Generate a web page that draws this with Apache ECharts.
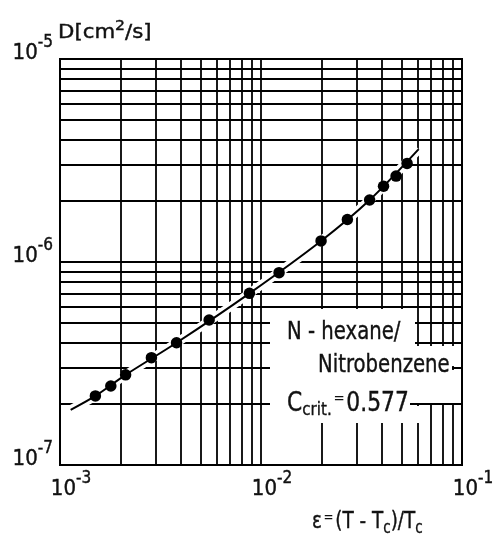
<!DOCTYPE html>
<html>
<head>
<meta charset="utf-8">
<script src="https://cdn.jsdelivr.net/npm/echarts@6/dist/echarts.min.js"></script>
<style>
html, body { margin: 0; padding: 0; background: #fff; }
#main { width: 493px; height: 536px; }
</style>
</head>
<body>
<div id="main"></div>
<script>
// measured points: eps = (T - Tc)/Tc, D in cm2/s
var epsData = [1.50e-3, 1.79e-3, 2.12e-3, 2.85e-3, 3.80e-3, 5.52e-3, 8.76e-3, 1.23e-2, 1.99e-2, 2.69e-2, 3.47e-2, 4.07e-2, 4.70e-2, 5.33e-2];
var dData   = [2.19e-7, 2.45e-7, 2.78e-7, 3.38e-7, 4.00e-7, 5.18e-7, 7.01e-7, 8.86e-7, 1.27e-6, 1.62e-6, 2.02e-6, 2.36e-6, 2.65e-6, 3.06e-6];

// the drawn curve
var curveEps = [1.13e-3, 1.50e-3, 2.12e-3, 3.80e-3, 8.76e-3, 1.99e-2, 3.47e-2, 6.09e-2];
var curveD   = [1.87e-7, 2.19e-7, 2.78e-7, 4.00e-7, 7.01e-7, 1.27e-6, 2.02e-6, 3.60e-6];

// axis ranges and log paper lines
var epsMin = 1e-3, epsMax = 1e-1;
var dMin = 1e-7, dMax = 1e-5;
var gridEps = [2e-3, 3e-3, 4e-3, 5e-3, 6e-3, 7e-3, 8e-3, 9e-3, 1e-2, 2e-2, 3e-2, 4e-2, 5e-2, 6e-2, 7e-2, 8e-2, 9e-2];
var gridD   = [2e-7, 3e-7, 4e-7, 5e-7, 6e-7, 7e-7, 8e-7, 9e-7, 1e-6, 2e-6, 3e-6, 4e-6, 5e-6, 6e-6, 7e-6, 8e-6, 9e-6];

var narrow = "'DejaVu Sans Condensed', 'DejaVu Sans', sans-serif";
var plain = "'DejaVu Sans', sans-serif";
var ink = '#111';

function pairs(xs, ys) {
  var out = [];
  for (var i = 0; i < xs.length; i++) out.push([xs[i], ys[i]]);
  return out;
}

function expLabel(v) {
  return Math.round(Math.log10(v));
}

var gridLines = [];
gridEps.forEach(function (v) { gridLines.push({ coords: [[v, dMin], [v, dMax]] }); });
gridD.forEach(function (v) { gridLines.push({ coords: [[epsMin, v], [epsMax, v]] }); });

var labelRich = {
  sp: { width: 22, lineHeight: 10, fontSize: 10 },
  h: { width: 0, lineHeight: 30, fontSize: 10 },
  b: { fontSize: 22, lineHeight: 22, verticalAlign: 'bottom', fontFamily: narrow, color: ink, textBorderColor: ink, textBorderWidth: 0.4 },
  s: { fontSize: 17, lineHeight: 18, verticalAlign: 'top', fontFamily: narrow, color: ink, textBorderColor: ink, textBorderWidth: 0.4 }
};

// rich token styles for the free texts
function tok(size, lh, va, extra) {
  var t = { fontSize: size, fontFamily: plain, fill: ink, stroke: ink, lineWidth: 0.4, lineHeight: lh, verticalAlign: va };
  if (extra) for (var k in extra) t[k] = extra[k];
  return t;
}

var chart = echarts.init(document.getElementById('main'));

var option = {
  animation: false,
  backgroundColor: '#fff',
  grid: {
    left: 60, top: 59, width: 402, height: 406,
    outerBoundsMode: 'none',
    show: true, borderColor: '#000', borderWidth: 2, backgroundColor: 'transparent'
  },
  xAxis: {
    type: 'log', logBase: 10, min: epsMin, max: epsMax,
    axisLine: { show: false }, axisTick: { show: false }, splitLine: { show: false },
    axisLabel: {
      margin: 5,
      formatter: function (v) { return '{h| }{sp| }{b|10}{s|' + expLabel(v) + '}'; },
      rich: labelRich
    }
  },
  yAxis: {
    type: 'log', logBase: 10, min: dMin, max: dMax,
    axisLine: { show: false }, axisTick: { show: false }, splitLine: { show: false },
    axisLabel: {
      margin: 7,
      padding: [0, 0, 20, 0],
      formatter: function (v) { return '{h| }{b|10}{s|' + expLabel(v) + '}'; },
      rich: labelRich
    }
  },
  series: [
    {
      type: 'lines', coordinateSystem: 'cartesian2d', polyline: false, z: 1, silent: true,
      lineStyle: { color: '#000', width: 1.8, opacity: 1, curveness: 0 },
      data: gridLines
    },
    {
      type: 'line', data: pairs(curveEps, curveD), smooth: 0.3, symbol: 'none', z: 3, silent: true,
      lineStyle: { color: '#fff', width: 9 }
    },
    {
      type: 'line', data: pairs(curveEps, curveD), smooth: 0.3, symbol: 'none', z: 4, silent: true,
      lineStyle: { color: '#000', width: 2 }
    },
    {
      type: 'scatter', data: pairs(epsData, dData), symbolSize: 11.5, z: 5,
      itemStyle: { color: '#000', opacity: 1 }
    }
  ],
  graphic: [
    // label box cut out of the grid
    { type: 'rect', z: 100, shape: { x: 270, y: 309, width: 145, height: 94 }, style: { fill: '#fff' } },
    { type: 'rect', z: 100, shape: { x: 415, y: 346, width: 37, height: 57 }, style: { fill: '#fff' } },
    { type: 'rect', z: 100, shape: { x: 452, y: 346, width: 8.5, height: 20 }, style: { fill: '#fff' } },
    { type: 'rect', z: 100, shape: { x: 452, y: 370, width: 8.5, height: 33 }, style: { fill: '#fff' } },
    { type: 'rect', z: 100, shape: { x: 270, y: 403, width: 140, height: 20 }, style: { fill: '#fff' } },
    { type: 'rect', z: 100, shape: { x: 410, y: 406, width: 20, height: 17 }, style: { fill: '#fff' } },
    {
      type: 'text', z: 101, x: 287, y: 345, scaleX: 0.82,
      style: { text: 'N - hexane/', font: '24px ' + plain, fill: ink, stroke: ink, lineWidth: 0.4, align: 'left', verticalAlign: 'bottom' }
    },
    {
      type: 'text', z: 101, x: 318, y: 378, scaleX: 0.82,
      style: { text: 'Nitrobenzene', font: '24px ' + plain, fill: ink, stroke: ink, lineWidth: 0.4, align: 'left', verticalAlign: 'bottom' }
    },
    {
      type: 'text', z: 101, x: 287, y: 419, scaleX: 0.84,
      style: {
        text: '{a|C}{sub|crit.}{e|=}{a|0.577}', align: 'left', verticalAlign: 'bottom',
        rich: {
          a: tok(26, 28, 'top'),
          sub: tok(18, 20, 'bottom'),
          e: tok(16, 26, 'top', { padding: [0, 2, 0, 2], lineWidth: 0 })
        }
      }
    },
    {
      type: 'text', z: 101, x: 58, y: 43, scaleX: 1.12,
      style: {
        text: '{a|D[cm}{p|2}{a|/s]}', align: 'left', verticalAlign: 'bottom',
        rich: {
          a: tok(19, 24, 'bottom'),
          p: tok(14, 14, 'top')
        }
      }
    },
    {
      type: 'text', z: 101, x: 312, y: 537, scaleX: 0.8,
      style: {
        text: '{a|\u03b5}{e|=}{a|(T - T}{sub|c}{a|)/T}{sub|c}', align: 'left', verticalAlign: 'bottom',
        rich: {
          a: tok(23, 26, 'top'),
          sub: tok(17, 18, 'bottom'),
          e: tok(15, 26, 'top', { padding: [0, 2, 0, 2], lineWidth: 0 })
        }
      }
    }
  ]
};

chart.setOption(option);
</script>
</body>
</html>
